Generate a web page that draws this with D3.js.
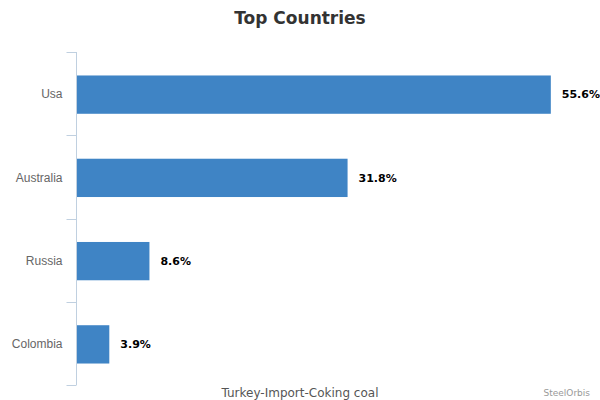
<!DOCTYPE html>
<html>
  <head>
    <title>Top Countries</title>
    <script src="https://d3js.org/d3.v7.min.js"></script>
    <style>
      body { margin: 0; background: #fff; }
      svg { font-family: "DejaVu Sans", sans-serif; }
      .title { font-size: 17px; font-weight: bold; fill: #333; text-anchor: middle; }
      .axis .domain, .axis .tick line { stroke: #c0d0e0; }
      .axis .tick text { font-size: 12px; fill: #666; }
      .value { font-size: 11px; font-weight: bold; fill: #000; }
      .caption { font-size: 12px; fill: #555; text-anchor: middle; }
      .credit { font-size: 9px; fill: #999; text-anchor: end; }
    </style>
  </head>
  <body>
    <svg width="600" height="400"></svg>
    <script>
      const countries = ["Usa", "Australia", "Russia", "Colombia"];
      const shares = [55.6, 31.8, 8.6, 3.9];

      const svg = d3.select("svg");
      const margin = {top: 52, left: 76, bottom: 385};

      const xScale = d3.scaleLinear()
        .domain([0, 60])
        .range([margin.left, margin.left + 60 * 8.54]);

      const yScale = d3.scaleBand()
        .domain(countries)
        .range([margin.top + 1, margin.bottom + 1])
        .paddingInner(0.54)
        .paddingOuter(0.27);

      svg.append("text")
        .attr("class", "title")
        .attr("x", 300)
        .attr("y", 24)
        .text("Top Countries");

      const axis = d3.axisLeft(yScale)
        .tickSize(0)
        .tickPadding(14);

      const g = svg.append("g")
        .attr("class", "axis")
        .attr("transform", `translate(${margin.left + 0.5}, 0)`)
        .call(axis);
      g.select(".domain").attr("d", `M0,${margin.top}V${margin.bottom}`);

      // category separators like the original's tick marks
      const bounds = d3.range(countries.length + 1).map(i => margin.top + i * (margin.bottom - margin.top) / countries.length);
      g.selectAll(".sep")
        .data(bounds)
        .enter().append("line")
          .attr("class", "sep")
          .attr("x1", -10)
          .attr("x2", 0)
          .attr("y1", d => Math.round(d) + 0.5)
          .attr("y2", d => Math.round(d) + 0.5)
          .attr("stroke", "#c0d0e0");

      const data = countries.map((c, i) => ({country: c, share: shares[i]}));

      svg.selectAll(".bar")
        .data(data)
        .enter().append("rect")
          .attr("class", "bar")
          .attr("x", xScale(0) + 1)
          .attr("y", d => yScale(d.country))
          .attr("width", d => xScale(d.share) - xScale(0) - 1)
          .attr("height", yScale.bandwidth())
          .attr("fill", "#3f84c5");

      svg.selectAll(".value")
        .data(data)
        .enter().append("text")
          .attr("class", "value")
          .attr("x", d => xScale(d.share) + 11)
          .attr("y", d => yScale(d.country) + yScale.bandwidth() / 2)
          .attr("dy", "0.35em")
          .text(d => d.share.toFixed(1) + "%");

      svg.append("text")
        .attr("class", "caption")
        .attr("x", 300)
        .attr("y", 397)
        .text("Turkey-Import-Coking coal");

      svg.append("text")
        .attr("class", "credit")
        .attr("x", 590)
        .attr("y", 396)
        .text("SteelOrbis");
    </script>
  </body>
</html>
